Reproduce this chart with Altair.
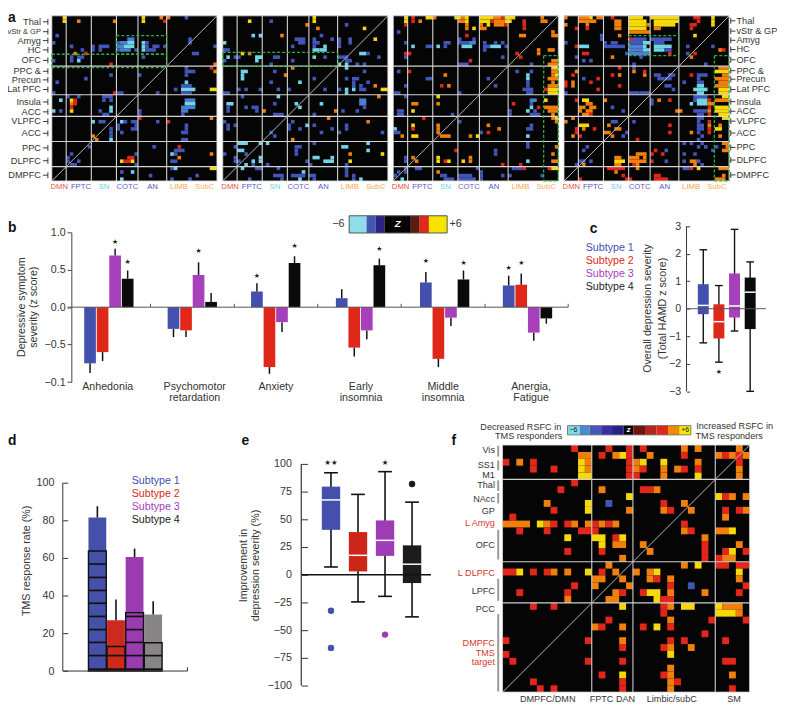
import altair as alt
import pandas as pd

FONT = "Liberation Sans"
STAR = "DejaVu Sans"
INK = "#333333"
LEVEL = {"c": "#6fd6e8", "l": "#4a7fd2", "b": "#4356b8", "r": "#e3261a", "o": "#f07f0c", "y": "#f7d90a", "B": "#4356b8"}
SUB = ["#4350ae", "#e0281a", "#a640bb", "#0a0a0a"]

# ---------- panel a: 46 x 46 significant-edge matrices, row -> "col[-col]level"
M1 = {0:"3y 25y 30o 32o 37b",1:"3y 7o 17o 25y 31r",5:"1b",6:"21-22l 38b",7:"0b 18b 19-20l 21-22c 25c 26b 38b",
8:"5b 11b 13-15b 18-19l 20-22c 25c 26b 28-29b 31b 45b",9:"8b 11b 13b 18b 19-21l 23b 25c 26-28b",10:"6o 9r 39-40b",
11:"5b 7-8b 25b",12:"0b 5b 7c",13:"16r 45o",14:"37b 44r",15:"37-39b 45o",16:"16b 24b 37b",17:"9b",18:"1b 37c",19:"36-38b",
20:"34b 36-39c 44-45y",21:"0b 17r 18-19b 29b 36-38b",22:"4b 7b 14-16b",23:"2c 5y 6r 14b 16b 37-39l",24:"5o 6r 37-39c",
25:"5r 16c 36-39l",26:"0c 2b 5y 13b 16c 24b 36-37l",27:"14-15b 24b 36b",28:"24r 44o",29:"11c 13-14b 19c 20b 22-23b 29b 32r",
30:"18b 23b 37b",31:"16b 18b 22-23b 37b",32:"16b 19b 36-37b",33:"11o 16b",34:"12o 16c 36-37b",36:"10b 28b 35r",
37:"34-35b 36b",38:"5b 23b 33c 34b 44o",39:"4b 21-22r 35o",40:"4b 7b 19y 20-21r 22y 33-34b",41:"5-6b 23b",42:"33b 34c 44-45y",
43:"19b 22c",44:"27b 40b",45:"19c 33b 38b"}
M2 = {0:"25y",1:"7y 13b 25y",2:"23o 34b",3:"26o 39y",5:"8c 10c 16o 27b",6:"20-22b 25b 30b 32b 35b 42y",7:"0c 21-22b 25-26b 32b 35b",
8:"19b 25b 28c 32b",9:"0-1b 25-26c 27-28c",10:"5y 7o 38-39c 40b",11:"1c 3-4b 9-10c 14-15b 25c 28b 32b 33-34b 43b",
12:"0b 9c 19b 34-35b",13:"13b 32c 34c 37b 39b",14:"19o 34c",15:"5-6c 14b 39b",16:"5c 17o",17:"5c 25b 34b 36-37b",
18:"13b 21c 36b 40b",19:"36b 38b 42o",20:"4b 6b 10b 15b 18b 28b 32b 34c 36c 38-39b 44-45y",21:"0-1b 34c",22:"5b 15c 43o",23:"38-39l",
24:"1-2c 14b 20c 27c 38-39l",25:"1b 6b 8-9b 21c 39b",26:"1b 9b 11o 31o 33b 37b",27:"14-16b 25b",28:"29o",29:"0b 19b 40o",
30:"1b 3b 18b 23c 25b 34b",31:"1b 18b 21b 30b 34b",32:"13b 27b 32b 44b",33:"14b",34:"19o",35:"4-6c 10c 12c 25b 40c",
36:"3b 20-21b 33-34c",37:"4-5c 20b 40c",38:"0b 6b 20b 35o 44y",39:"3b 10c 25-26c 30c",40:"3-4b 8c 10c 23b 28-30c 35y",
41:"6c 8b 12b 24b 34b",42:"5c 9-10b 15b 34b",43:"22c 34b",44:"14-16b 19-22b 24-25b 34b 36b",45:"7b 16b 21c 25b 36b 38c"}
M3 = {0:"3y 5r 9-10y 11o 17-18y 19o 20y 24-27y 28-29o 30r 31-33y 41o",1:"3y 5r 7o 18-19o 20y 24-26y 27r 28-30o 31-32y 36r 41-42o",
2:"3r 20o 24o 26y 28-30o 31r 36r",3:"20o 22y 24-25o 36r",4:"1b 44o",5:"20r 35-36o 44-45o",6:"18b 22b",7:"3b 14-15b 18-20b 21-22l 25b 28b 30b",
8:"5c 9-10b 12c 14b 19-21c 25-26b 27-29c 31b",9:"25b 40o 43-44o",10:"3-4r 34r 40o",11:"3b 30b 35r",12:"21r 44-45o",
13:"18-20b 38b 43-45o",14:"44-45y",15:"1b 4r 34b 38b 44-45o",16:"14o 37c 44o 45y",17:"9-10b 26b 37c 43-45o",18:"37b 44o",
19:"3b 13r 15o 28b 37b 43-45o",20:"36-38b 42r 43-45y",21:"0-1b 18b 37-38b 43-45y",22:"3b 12y",23:"38-39l 42y",
24:"5-6o 12o 33r 38b",25:"38c 40r 42-45o",26:"1-2b 5y 32b 37c 39b 43-45o",27:"1-2b 16b 32b 38-40b 44o",28:"8r 44o 45y",29:"18b 45o",
30:"5y 12o 26o 38b",31:"0c 5r 12o 29o 37-38b",32:"0-1b 12o 24b 26r",33:"2o 5-6y 13-15o 21o 23y 37c",35:"37b",36:"37b 45o",37:"17r 28b",
38:"28b 44o",39:"3b 5o 12y 21o",40:"3b 6o 12y 14r 15y 19y 21o 37c 44-45o",41:"30r 35r",42:"3b 6-7b 23b 33b 34-35b 36r 43r 44-45y",
43:"1b 3b 12o 24b",44:"0b 13-14b 18-21b 24b 30b 32b 41b",45:"2c 14-16b 18-22b 24b"}
M4 = {0:"0o 4-6o 7y 9-10o 13r 18-21y 24-31y 36-37r 41y",1:"4-6o 7-8o 14-15o 18-22y 25-31y 37r 41y",2:"0o 6o 14-15o 18-22y 23o 25-30y 35-36r 41y",
3:"3r 6r 14-15o 18-22y 25-26o 35r",4:"18-23o",5:"10b 15o 36y",6:"10b 18r 19-22b 24-29b",7:"0b 11b 13-14b 18-21b 22-23c 25-27b",
8:"3r 4-6c 11-16b 18-21l 22c 25-29c 34b 41b",9:"18-21l 22-23c 25-27c 28-29b 43o 44r",10:"5-6r 17b 18-23l 29r 34b 36r",11:"3b 13o 21b 35o",
12:"5b 7b",13:"19b 39b",14:"15r 19b 43-45o",15:"3o 19o 22r 42-45y",16:"2r 13r 15o 22o 25-26b 29-30b 35r 37-39b 44-45o",
17:"5b 9r 26-27b 28-29b 37b 42-45o",18:"0r 2o 7r 33b 37-38b 43-45o",19:"0r 2o 15r 28-29b 37-38c 42-45o",20:"9r 30b 36-39c 43-45y",
21:"0b 18-20b 21-23b 37-38c 43-45y",22:"36-39b 44-45y",23:"3r 5-6y 11o 24b 26o 29r 36b 37-39c 40r 42-45o",24:"6-7o 24b 35c 37-39c 40-41o",
25:"4-5o 7-8o 13b 40r 42-45y",26:"4o 6-7o 16b 31-32o 36-39b 40o 42-45y",27:"5-6o 7r 37-38b 40r 43-45y",28:"2o 37-38b 44-45y",
29:"0o 13-14b 19b 37b 40r",30:"4-6y 12o 29r 37-38b 40o 43o",31:"3r 5o 8r 14-15o 37-38b 40r 42-43y",32:"3r 11-12o 17b 29r 35o 37b 40r",
33:"2o 4r 13o 16b 38b 43o",34:"20r 37b",35:"33b 35b 38b 44-45o",36:"6b 37b 39b 42b 45o",37:"5b 25r 28b 41b 44-45o",38:"20-22o 24r 27r 33b 36b",
39:"14-15o 18-20o 22o",40:"4-5b 7b 14-16y 18-22o 24r 28b 33b 35-36o 37b",41:"3b 5o 14-15o 19r 20o 36o 38b",42:"12-16r 20o 33-34b 35r 37y 43-45o",
43:"14o",44:"16r 25-26r 44o",45:"4r 17r 18r 25-28r 42-44o"}
A_GROUPS = [4, 11, 18, 24, 32]
A_ROW_GROUPS = [14, 22, 28, 35, 42]
A_ORIGINS = [52.3, 225.0, 397.3, 569.8]
A_BOXES = [[(18, 32, 5.5, 10.7), (0, 32, 10.7, 14.4)], [(0, 32, 10.2, 14.1)], [(41.9, 46, 11.1, 46)], [(18, 32, 5.5, 11.1), (41.9, 46, 11.1, 46)]]
A_LEFT_LABELS = ["Thal", "vStr & GP", "Amyg", "HC", "OFC", "PPC &", "Precun", "Lat PFC", "Insula", "ACC", "VLPFC", "ACC", "PPC", "DLPFC", "DMPFC"]
A_LEFT_Y = [18.3, 28.3, 37.3, 46.7, 57.3, 68.3, 77, 86.7, 99.3, 109.3, 119, 131, 145.7, 158.7, 173.3]
A_RIGHT_Y = [17.3, 27.7, 37, 46.3, 56.7, 67.7, 76.3, 86.7, 99, 108.7, 118.7, 130.7, 145.3, 158, 173]
A_NETS = ["DMN", "FPTC", "SN", "COTC", "AN", "LIMB", "SubC"]
A_NET_DX = [7.4, 29.4, 52.7, 76.4, 101.7, 128.4, 154.4]
A_NET_COL = ["#e8504a", "#5a55c0", "#6fd4e4", "#6a60c8", "#5a55c0", "#f0a848", "#f3ad5c"]

# ---------- panel b
B_CATS = [("Anhedonia",), ("Psychomotor", "retardation"), ("Anxiety",), ("Early", "insomnia"), ("Middle", "insomnia"), ("Anergia,", "Fatigue")]
B_CAT_X = [108.7, 196.7, 278.7, 364.7, 447.7, 536.5]
B_VAL = [[-.75, -.60, .69, .38], [-.29, -.31, .43, .07], [.21, -.80, -.20, .59], [.12, -.54, -.31, .56], [.33, -.69, -.14, .37], [.29, .30, -.34, -.15]]
B_ERR = [[-.88, -.72, .78, .49], [-.40, -.40, .60, .19], [.32, -.89, -.33, .68], [.24, -.66, -.43, .65], [.47, -.80, -.25, .49], [.42, .45, -.45, -.22]]
B_START = [85.0, 169.3, 253.6, 339.3, 424.3, 508.0]
B_STARS = [(0, 2, .87), (0, 3, .60), (1, 2, .75), (2, 0, .42), (2, 3, .82), (3, 3, .78), (4, 0, .62), (4, 3, .585), (5, 0, .52), (5, 1, .59)]
B_TICKS = [152, 236.7, 321, 405.3, 490, 574]
BAR_EDGES = [352.7, 370.3, 379.3, 388.3, 415, 424, 433.3, 451.7]
BAR_COLS = ["#8fdde9", "#4157b3", "#2c2385", "#050505", "#5e1a10", "#e1281a", "#f5e400"]

# ---------- panel c
C_HI = [2.14, .84, 2.88, 1.70]
C_Q3 = [.89, .16, 1.28, 1.13]
C_MED = [.12, -.47, .10, .60]
C_Q1 = [-.20, -1.08, -.32, -.74]
C_LO = [-1.24, -1.94, -.81, -3.0]

# ---------- panel d
D_VAL = [81.5, 27, 60.5, 30]
D_ERR = [87.5, 38, 65, 37]
D_LOW = [63.7, 13, 31, 15]
D_LINES = [[1, 8.2, 15.2, 22, 29, 36, 42.8, 49.7, 56.8], [1, 8.2], [1, 8.2, 15.2, 22, 29], [1, 8.2]]
D_COL = ["#4550a8", "#cc2a1c", "#9a3cb0", "#888587"]

# ---------- panel e
E_HI = [92, 72.5, 93, 65.5]
E_Q3 = [79.5, 38.5, 49, 26.5]
E_MED = [67.5, 17.5, 31, 9.5]
E_Q1 = [40.5, 3, 17, -7.5]
E_LO = [7, -24.5, -19.5, -38]
E_OUT = [(0, -32.5), (0, -66), (2, -54), (3, 81.8)]
E_COL = ["#4550ac", "#cc2618", "#9e3cb5", "#1c1c1c"]

# ---------- panel f: 36 x 36
MF = {0:"10r 15r 18r 20r 26o 28o 34o",1:"11-12o 14r 16o 17y 18r 21o 26r 31o 32r 33o 34r 35o",2:"0r 2o 4r 11y 12o 18r 19o 20y 23y 28o 34r",
3:"4r 7r 11y 12o 18r 19o 20r 23o 25o 26r 28r 34o",4:"11-12y 18-19r 23o 28y 34o",5:"10r",6:"8r 14o 20-21r 22o",7:"18y 31y 32r 33o 35o",
8:"6o 12y 15b 23r 26o",9:"7r 12y 18o 23o 24r 27o 32r 34r 35o",10:"1r 32o",11:"0-3o 5y 6o 7r 9r 10o 12o 13r 14o 15r 16o 26r",
12:"2r 6r 11-12r 13r 26o 27r 31-32o 33y",13:"9y 13-14y 16r 17y 29o",14:"14y 16-17o 20o 29r 34o",15:"9r 14r 21o 29r 32r 33y 35r",
16:"17o 29r 31r 32-33o",17:"15o 26o 28y 31-32r 34-35r",18:"0-1r 2y 4r 6r 7o 9o 12y 14r 16o 19o 21o 22y 34y",19:"13-14o 17o 21o 22r 24o 34o",
20:"10r 13o 18o 24r 27b 35r",21:"2r 9r 16o 17r 20r 21-22y 24o 29o 34r",22:"9o 15-16o 22y 23-24r",23:"4r 7r 17y 23r 24o 26-27y 31y 32-34o",
24:"23r 31-33y 34o",25:"15r 24o 30r 35r",26:"13o 14r 17o 20r 22y 24r",27:"29r",28:"0r 12r 17o 24r 26r 32r",29:"17r 23r 24o 27o",30:"0r 24y",
31:"1r 12r 17r 32-33r",32:"24o",33:"14r 17y 23r 24o 33o",34:"4r 17r 24o 25r",35:"5r 7r 17r 24o 33r"}
F_VLINES = [13, 19, 31]
F_HLINES = [5, 17, 23]
F_LABELS = [("Vis", 107, INK), ("SS1", 154, INK), ("M1", 184, INK), ("Thal", 214, INK), ("NAcc", 255, INK), ("GP", 292, INK), ("L Amyg", 329, "#d8352a"),
            ("OFC", 395, INK), ("L DLPFC", 482, "#d8352a"), ("LPFC", 536, INK), ("PCC", 590, INK), ("DMPFC", 694, "#d8352a"), ("TMS", 722, "#d8352a"), ("target", 750, "#d8352a")]
F_BARS = [(95, 128), (140, 170), (200, 232), (238, 270), (350, 440), (498, 565), (605, 840)]
F_BOTTOM = [("DMPFC/DMN", 400), ("FPTC DAN", 596), ("Limbic/subC", 776), ("SM", 965)]
F_EDGES = [460, 497, 527, 562, 595, 630, 660, 695, 730, 765, 800, 834]
F_COLS = ["#7fd8e6", "#4a8bd0", "#4458b8", "#3a2fa0", "#2a1f85", "#050505", "#6e1510", "#b0271d", "#e0281a", "#f08a00", "#f5e60a"]
SUBTYPES = ["Subtype 1", "Subtype 2", "Subtype 3", "Subtype 4"]

layers = []


class Panel:
    def __init__(self, xd, xr, yd, yr):
        self.xs = alt.Scale(domain=xd, range=[xr[0] - 8, xr[1] - 8], nice=False, zero=False)
        self.ys = alt.Scale(domain=yd, range=[yr[0] - 8, yr[1] - 8], nice=False, zero=False)

    def x(self, f="x"):
        return alt.X(f + ":Q", scale=self.xs, axis=None, title=None)

    def y(self, f="y", axis=None):
        return alt.Y(f + ":Q", scale=self.ys, axis=axis, title=None)

    def rule(self, rows, color, width=1.0, dash=None):
        kw = {"strokeDash": dash} if dash else {}
        layers.append(alt.Chart(pd.DataFrame(rows, columns=["x", "x2", "y", "y2"])).mark_rule(color=color, strokeWidth=width, **kw).encode(
            x=self.x(), x2="x2:Q", y=self.y(), y2="y2:Q"))

    def rect(self, rows, axis=None, **mk):
        # rows: x, x2, y, y2, colour
        d = pd.DataFrame(rows, columns=["x", "x2", "y", "y2", "c"])
        layers.append(alt.Chart(d).mark_rect(**mk).encode(
            x=self.x(), x2="x2:Q", y=self.y(axis=axis), y2="y2:Q", color=alt.Color("c:N", scale=None, legend=None)))


def text(items, size=10.8, align="left", color=INK, weight="normal", angle=0, font=FONT, style="normal"):
    d = pd.DataFrame([{"x": i[0] - 8, "y": i[1] - 8, "t": i[2]} for i in items])
    kw = {"angle": angle} if angle else {}
    layers.append(alt.Chart(d).mark_text(font=font, fontSize=size, align=align, baseline="middle", color=color,
                                         fontWeight=weight, fontStyle=style, **kw).encode(
        x=alt.X("x:Q", scale=None, axis=None), y=alt.Y("y:Q", scale=None, axis=None), text="t:N"))


def lines(rows, color="#222222", width=1.0):
    d = pd.DataFrame(rows, columns=["x", "x2", "y", "y2"])
    d[["x", "x2", "y", "y2"]] -= 8
    layers.append(alt.Chart(d).mark_rule(color=color, strokeWidth=width).encode(
        x=alt.X("x:Q", scale=None, axis=None), x2="x2:Q", y=alt.Y("y:Q", scale=None, axis=None), y2="y2:Q"))


def parse(rows):
    out = []
    for r, s in rows.items():
        for tok in s.split():
            lev = tok[-1]
            span = tok[:-1].split("-")
            a = int(span[0])
            b = int(span[-1]) + 1
            out.append((a, b, r, r + 1, LEVEL[lev]))
    return out


def matrix(rows, x0, y0, size, n, vl, hl, line="#d4d4d4", lw=1.1):
    p = Panel([0, n], [x0, x0 + size], [0, n], [y0, y0 + size])
    p.rect([(0, n, 0, n, "#050505")])
    p.rect(parse(rows))
    p.rule([(v, v, 0, n) for v in vl] + [(0, n, h, h) for h in hl], line, lw)
    p.rule([(0, n, n, 0)], "#b8b8b8", 1.0)
    p.rule([(0, n, 0, 0), (0, n, n, n), (0, 0, 0, n), (n, n, 0, n)], "#d8d8d8", 0.8)
    return p


# ---- a
A_SIZE = 166.8
A_Y0 = 12.3
for mat, x0, boxes_ in zip([M1, M2, M3, M4], A_ORIGINS, A_BOXES):
    p = matrix(mat, x0, A_Y0, A_SIZE, 46, A_GROUPS, A_ROW_GROUPS)
    for b in boxes_:
        xa, xb, ya, yb = b
        p.rule([(xa, xb, ya, ya), (xa, xb, yb, yb), (xa, xa, ya, yb), (xb, xb, ya, yb)], "#2fb13a", 1.3, [3, 2])
    for k in range(7):
        text([(x0 + A_NET_DX[k], 185.7, A_NETS[k])], 7.8, "center", A_NET_COL[k])

for i, (lab, y) in enumerate(zip(A_LEFT_LABELS, A_LEFT_Y)):
    if i == 1:
        text([(41.3, y, lab)], 7.6, "right")
    else:
        text([(41.3, y, lab)], 9.3, "right")
lines([(43.3, 48.3, y, y) for y in A_LEFT_Y] + [(48.3, 48.3, y - 3, y + 3) for y in A_LEFT_Y], "#222222", 0.9)
text([(744, y, lab) for lab, y in zip(A_LEFT_LABELS, A_RIGHT_Y)], 9.3, "left")
lines([(738.3, 743, y, y) for y in A_RIGHT_Y] + [(738.3, 738.3, y - 3, y + 3) for y in A_RIGHT_Y], "#222222", 0.9)

# ---- b
B = Panel([0, 502], [72, 574], [-1, 1], [382.3, 231])
bw = 11.8
bstep = 12.67
bx = lambda g, s: B_START[g] - 72 + s * bstep
B.rect([(bx(g, s), bx(g, s) + bw, 0, B_VAL[g][s], SUB[s]) for g in range(6) for s in range(4)],
       axis=alt.Axis(orient="left", offset=-64, values=[-1, -.5, 0, .5, 1], tickSize=4.3, domain=True, grid=False, title=None,
                     labelFont=FONT, labelFontSize=10.8, labelColor=INK, labelPadding=2, tickColor="#444", domainColor="#444",
                     labelExpr="datum.value==-1?'−0.1':datum.value==-0.5?'−0.5':format(datum.value,'.1f')"))
B.rule([(bx(g, s) + bw / 2, bx(g, s) + bw / 2, B_VAL[g][s], B_ERR[g][s]) for g in range(6) for s in range(4)], "#111111", 1.5)
B.rule([(-4, 502, 0, 0)], "#555555", 1.0)
B.rule([(t - 72, t - 72, 0, .045) for t in B_TICKS], "#555555", 1.0)
d_bs = pd.DataFrame([{"x": bx(g, s) + bw / 2, "y": v} for g, s, v in B_STARS])
layers.append(alt.Chart(d_bs).mark_text(text="★", font=STAR, fontSize=7, color="#222222").encode(x=B.x(), y=B.y()))
text([(x, 387.3, c[0]) for x, c in zip(B_CAT_X, B_CATS)], 10.8, "center")
text([(x, 398.5, c[1]) for x, c in zip(B_CAT_X, B_CATS) if len(c) > 1], 10.8, "center")
text([(21.7, 306.7, "Depressive symptom"), (34.3, 306.7, "severity (z score)")], 10.8, "center", angle=270)
text([(8, 227, "b"), (595.7, 228, "c")], 14, "left", "#111111", "bold")

# colour bar b
CB = Panel([BAR_EDGES[0], BAR_EDGES[-1]], [BAR_EDGES[0], BAR_EDGES[-1]], [0, 1], [231.7, 214.3])
CB.rect([(a, b, 0, 1, c) for a, b, c in zip(BAR_EDGES[:-1], BAR_EDGES[1:], BAR_COLS)])
CB.rect([(BAR_EDGES[0], BAR_EDGES[-1], 0, 1, "#555555")], filled=False, strokeWidth=1.0)
text([(348, 223, "−6")], 10.8, "right")
text([(454, 223, "+6")], 10.8, "left")
text([(401.7, 223, "Z")], 10, "center", "#ffffff", "bold", style="italic")


def boxes(xr, yd, yr, hi, q3, med, q1, lo, cols, bw_, cap, whisk, axis, white=1.5):
    p = Panel([0, 4], xr, yd, yr)
    n = range(4)
    p.rule([(i + .5, i + .5, lo[i], hi[i]) for i in n], "#111111", whisk)
    p.rule([(i + .5 - cap, i + .5 + cap, hi[i], hi[i]) for i in n] + [(i + .5 - cap, i + .5 + cap, lo[i], lo[i]) for i in n], "#111111", whisk)
    p.rect([(i + .5 - bw_, i + .5 + bw_, q1[i], q3[i], cols[i]) for i in n], axis=axis)
    p.rule([(i + .5 - bw_, i + .5 + bw_, med[i], med[i]) for i in n], "#ffffff", white)
    return p


def tick_axis(vals, offset, size=10.8, expr=None, tick=3.0, pad=6):
    kw = {"labelExpr": expr} if expr else {}
    return alt.Axis(orient="left", offset=offset, values=vals, tickSize=tick, domain=False, grid=False, title=None, labelFont=FONT,
                    labelFontSize=size, labelColor=INK, labelPadding=pad, tickColor="#333", **kw)


# ---- c
C = boxes([702.6, 765.8], [-3, 3], [391.7, 224.7], C_HI, C_Q3, C_MED, C_Q1, C_LO, SUB, .35, .245, 1.4,
          tick_axis([-3, -2, -1, 0, 1, 2, 3], -(696.7 - 8), expr="replace(format(datum.value,'d'),'-','−')"))
C.rule([(-.57, 4.5, 0, 0)], "#555555", 1.0)
C.rule([(-.57, -.57, -3, 3)], "#333333", 1.0)
d_cs = pd.DataFrame([{"x": 1.5, "y": -2.3}])
layers.append(alt.Chart(d_cs).mark_text(text="★", font=STAR, fontSize=7, color="#222222").encode(x=C.x(), y=C.y()))
for i, (s, y) in enumerate(zip(SUBTYPES, [246.7, 260, 273.3, 286.7])):
    text([(591.7, y, s)], 10.8, "left", SUB[i] if i < 3 else "#222222")
text([(655, 308, "Overall depression severity"), (670, 308, "(Total HAMD z score)")], 10.8, "center", angle=270)

# ---- d
D = Panel([0, 4], [89.3, 164.5], [0, 100], [674.3, 484])
dw = .957
D.rect([(i, i + dw, 0, D_VAL[i], D_COL[i]) for i in range(4)],
       axis=tick_axis([0, 20, 40, 60, 80, 100], -(68.3 - 8), pad=9, tick=5))
D.rule([(i + dw / 2, i + dw / 2, D_VAL[i], D_ERR[i]) for i in range(4)], "#111111", 1.6)
D.rule([(i, i + dw, v, v) for i in range(4) for v in D_LINES[i]], "#111111", 1.7)
D.rect([(i, i + dw, 0, D_LOW[i], "#111111") for i in range(4)], filled=False, strokeWidth=1.4)
D.rule([(-1.38, -1.38, 0, 100), (-1.38, 5.32, 0, 0), (5.32, 5.32, 0, 2)], "#333333", 1.0)
for i, (s, y) in enumerate(zip(SUBTYPES, [482, 495.3, 508.7, 522])):
    text([(133, y, s)], 10.8, "left", SUB[i] if i < 3 else "#222222")
text([(27.7, 563, "TMS response rate (%)")], 10.8, "center", angle=270)
text([(8, 441.7, "d"), (244, 441.7, "e"), (456, 441.7, "f")], 14, "left", "#111111", "bold")

# ---- e
E = boxes([320.7, 429.9], [-100, 100], [689, 465], E_HI, E_Q3, E_MED, E_Q1, E_LO, E_COL, .34, .255, 1.6,
          tick_axis([-100, -75, -50, -25, 0, 25, 50, 75, 100], -(310.7 - 8), expr="replace(format(datum.value,'d'),'-','−')", tick=6.4, pad=10))
E.rule([(-.6, 4.2, 0, 0)], "#111111", 1.5)
E.rule([(-.6, -.6, -100, 100)], "#333333", 1.2)
d_eo = pd.DataFrame([{"x": i + .5, "y": v, "c": E_COL[i]} for i, v in E_OUT])
layers.append(alt.Chart(d_eo).mark_circle(size=42, opacity=1).encode(x=E.x(), y=E.y(), color=alt.Color("c:N", scale=None, legend=None)))
d_es = pd.DataFrame([{"x": .5, "y": 101, "t": "★★"}, {"x": 2.5, "y": 101, "t": "★"}])
layers.append(alt.Chart(d_es).mark_text(font=STAR, fontSize=7.5, color="#222222").encode(x=E.x(), y=E.y(), text="t:N"))
text([(246, 567.7, "Improvement in"), (258.3, 567.7, "depression severity (%)")], 10.8, "center", angle=270)

# ---- f
f_x0, f_y0, f_size = 507.7, 446.0, 249.6
matrix(MF, f_x0, f_y0, f_size, 36, F_VLINES, F_HLINES, "#cfcfcf", 1.1)
for t, yy, col in F_LABELS:
    text([(500, 415 + yy / 3, t)], 9.2, "right", col)
lines([(503.3, 503.3, 415 + a / 3, 415 + b / 3) for a, b in F_BARS], "#9a9a9a", 2.0)
text([(420 + x / 3, 703, t) for t, x in F_BOTTOM], 9.2, "center")
text([(567, 427.4, "Decreased RSFC in")], 9.2, "right")
text([(568, 436.8, "TMS responders")], 9.2, "right")
text([(703.3, 427, "Increased RSFC in")], 9.2, "left")
text([(702.7, 436.8, "TMS responders")], 9.2, "left")
fx = [420 + e / 3 for e in F_EDGES]
FB = Panel([fx[0], fx[-1]], [fx[0], fx[-1]], [0, 1], [435.7, 426.3])
FB.rect([(a, b, 0, 1, c) for a, b, c in zip(fx[:-1], fx[1:], F_COLS)])
FB.rect([(fx[0], fx[-1], 0, 1, "#666666")], filled=False, strokeWidth=0.8)
text([(579.3, 431.2, "−6"), (692.3, 431.2, "+6")], 7, "center", "#222222")
text([(635, 431, "z")], 7.5, "center", "#ffffff", "bold", style="italic")

# ---- a letter
text([(8, 15, "a")], 14, "left", "#111111", "bold")

chart = alt.layer(*layers).resolve_scale(x="independent", y="independent").properties(
    width=777, height=699, padding=0, autosize=alt.AutoSizeParams(type="none")
).configure_view(stroke=None)

chart.save("out.html", embed_options={"renderer": "svg", "actions": False})
